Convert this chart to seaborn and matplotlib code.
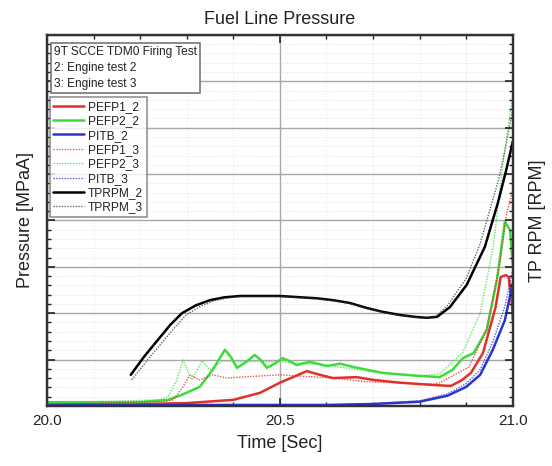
import numpy as np
import pandas as pd
import matplotlib
matplotlib.use("Agg")
import matplotlib.pyplot as plt
from matplotlib.ticker import MultipleLocator, NullFormatter
from matplotlib.lines import Line2D
import seaborn as sns

# valores (eje y sin escala: 8 divisiones)
t_pefp1_2 = [20.0, 20.2, 20.3, 20.4, 20.457, 20.5, 20.528, 20.558, 20.586, 20.614, 20.665, 20.7, 20.758,
             20.83, 20.867, 20.89, 20.91, 20.936, 20.963, 20.974, 20.985, 20.991, 20.998, 21.0]
v_pefp1_2 = [0.04, 0.04, 0.06, 0.13, 0.28, 0.50, 0.62, 0.75, 0.67, 0.60, 0.62, 0.56, 0.50,
             0.45, 0.43, 0.55, 0.71, 1.14, 2.13, 2.78, 2.82, 2.78, 2.2, 1.85]

t_pefp2_2 = [20.0, 20.2, 20.26, 20.29, 20.328, 20.356, 20.382, 20.395, 20.408, 20.428, 20.446, 20.46, 20.472,
             20.49, 20.506, 20.52, 20.536, 20.564, 20.601, 20.629, 20.657, 20.721, 20.794, 20.843,
             20.871, 20.893, 20.916, 20.944, 20.966, 20.983, 20.994, 21.0]
v_pefp2_2 = [0.08, 0.08, 0.13, 0.24, 0.41, 0.78, 1.21, 1.05, 0.82, 0.95, 1.10, 0.98, 0.82,
             0.92, 1.03, 0.97, 0.88, 0.95, 0.86, 0.91, 0.84, 0.71, 0.65, 0.62,
             0.78, 1.03, 1.14, 1.64, 2.72, 3.97, 3.79, 3.04]

t_pitb_2 = [20.0, 20.6, 20.7, 20.8, 20.86, 20.9, 20.93, 20.957, 20.983, 21.0]
v_pitb_2 = [0.02, 0.02, 0.04, 0.09, 0.22, 0.41, 0.67, 1.21, 1.85, 2.65]

t_pefp1_3 = [20.0, 20.25, 20.271, 20.292, 20.307, 20.328, 20.356, 20.386, 20.414, 20.5, 20.614, 20.687,
             20.83, 20.843, 20.906, 20.944, 20.972, 20.987, 21.0]
v_pefp1_3 = [0.04, 0.09, 0.13, 0.41, 0.67, 0.56, 0.67, 0.60, 0.62, 0.67, 0.60, 0.52,
             0.47, 0.50, 0.84, 1.64, 3.08, 4.16, 4.66]

t_pefp2_3 = [20.0, 20.24, 20.26, 20.279, 20.292, 20.311, 20.333, 20.350, 20.378, 20.41, 20.5, 20.6, 20.7,
             20.8, 20.843, 20.893, 20.93, 20.958, 20.979, 20.994, 21.0]
v_pefp2_3 = [0.06, 0.13, 0.20, 0.56, 0.99, 0.56, 0.97, 0.78, 0.97, 0.95, 0.95, 0.88, 0.73,
             0.65, 0.69, 1.16, 2.0, 3.43, 5.24, 6.31, 6.66]

t_pitb_3 = [20.0, 20.6, 20.7, 20.8, 20.86, 20.9, 20.93, 20.957, 20.983, 21.0]
v_pitb_3 = [0.02, 0.02, 0.05, 0.11, 0.26, 0.48, 0.78, 1.38, 2.15, 2.95]

t_tprpm_2 = [20.18, 20.21, 20.242, 20.265, 20.29, 20.32, 20.35, 20.38, 20.414, 20.5, 20.58, 20.614, 20.65,
             20.687, 20.72, 20.758, 20.79, 20.815, 20.837, 20.865, 20.901, 20.94, 20.968, 20.985, 21.0]
v_tprpm_2 = [0.67, 1.08, 1.47, 1.75, 2.00, 2.17, 2.28, 2.34, 2.37, 2.37, 2.32, 2.28, 2.22,
             2.11, 2.03, 1.96, 1.92, 1.90, 1.92, 2.13, 2.61, 3.43, 4.38, 5.05, 5.7]

t_tprpm_3 = [20.182, 20.215, 20.25, 20.275, 20.30, 20.33, 20.36, 20.39, 20.42, 20.5, 20.58, 20.614, 20.65,
             20.687, 20.72, 20.758, 20.79, 20.815, 20.835, 20.86, 20.9, 20.93, 20.97, 20.985, 21.0]
v_tprpm_3 = [0.56, 0.98, 1.40, 1.70, 1.97, 2.15, 2.27, 2.33, 2.36, 2.36, 2.31, 2.27, 2.21,
             2.10, 2.02, 1.95, 1.91, 1.89, 1.93, 2.17, 2.75, 3.50, 4.9, 5.6, 6.4]

red, green, blue = "#e0302a", "#3cdc3c", "#2a35d0"

pressure = [
    ("PEFP1_2", t_pefp1_2, v_pefp1_2, red, "-"),
    ("PEFP2_2", t_pefp2_2, v_pefp2_2, green, "-"),
    ("PITB_2", t_pitb_2, v_pitb_2, blue, "-"),
    ("PEFP1_3", t_pefp1_3, v_pefp1_3, red, ":"),
    ("PEFP2_3", t_pefp2_3, v_pefp2_3, green, ":"),
    ("PITB_3", t_pitb_3, v_pitb_3, blue, ":"),
]
rpm = [
    ("TPRPM_2", t_tprpm_2, v_tprpm_2, "black", "-"),
    ("TPRPM_3", t_tprpm_3, v_tprpm_3, "#444444", ":"),
]

sns.set_theme(style="white")
plt.rcParams['font.family'] = ['Liberation Sans', 'DejaVu Sans']

fig = plt.figure(figsize=(5.52, 4.66), dpi=100)
ax = fig.add_axes([0.085, 0.129, 0.844, 0.796])
ax2 = ax.twinx()

handles = []
def draw(axis, name, t, v, color, ls):
    df = pd.DataFrame({"t": t, "v": v})
    if ls == "-":
        kw = dict(linewidth=1.8, linestyle="-", alpha=1.0)
    else:
        kw = dict(linewidth=1.0, linestyle=(0, (1, 1)), alpha=0.8)
    sns.lineplot(data=df, x="t", y="v", ax=axis, color=color, legend=False, **kw)
    handles.append(Line2D([], [], color=color, label=name, **kw))

for s in pressure:
    draw(ax, *s)
for s in rpm:
    draw(ax2, *s)

for a in (ax, ax2):
    a.set_xlim(20.0, 21.0)
    a.set_ylim(0, 8)
    a.yaxis.set_major_locator(MultipleLocator(1))
    a.yaxis.set_minor_locator(MultipleLocator(0.2))
    a.yaxis.set_major_formatter(NullFormatter())
    a.set_ylabel("")

ax.xaxis.set_major_locator(MultipleLocator(0.5))
ax.xaxis.set_minor_locator(MultipleLocator(0.1))
ax.xaxis.set_major_formatter(matplotlib.ticker.FormatStrFormatter("%.1f"))

ax.tick_params(which="both", direction="in", top=True, bottom=True, left=True, right=False,
               colors="#222222", labelsize=11, labelcolor="#222222")
ax.tick_params(which="major", length=6, width=1.2)
ax.tick_params(which="minor", length=3, width=1.0)
ax.tick_params(axis="x", pad=6)
ax2.tick_params(which="both", direction="in", right=True, left=False, colors="#222222")
ax2.tick_params(which="major", length=6, width=1.2)
ax2.tick_params(which="minor", length=3, width=1.0)

ax.grid(which="major", color="#a8a8a8", linewidth=1.0, linestyle="-")
ax.grid(which="minor", color="#e4e4e4", linewidth=0.7, linestyle=":")
ax2.grid(False)

for a in (ax, ax2):
    for sp in a.spines.values():
        sp.set_color("#333333")
        sp.set_linewidth(1.6)

ax.set_title("Fuel Line Pressure", fontsize=13, pad=8, color="#222222")
ax.set_xlabel("Time [Sec]", fontsize=13, labelpad=5, color="#222222")
ax.set_ylabel("Pressure [MPaA]", fontsize=13, labelpad=6, color="#222222")
ax2.set_ylabel("TP RPM [RPM]", fontsize=13, labelpad=8, color="#222222")

# caja de texto superior
ax2.text(0.015, 0.97, "9T SCCE TDM0 Firing Test\n2: Engine test 2\n3: Engine test 3",
         transform=ax2.transAxes, ha="left", va="top", fontsize=8.6, linespacing=1.45,
         color="#222222",
         bbox=dict(boxstyle="square,pad=0.25", facecolor="white", edgecolor="#777777", linewidth=1.2))

leg = ax2.legend(handles=handles, loc="upper left", bbox_to_anchor=(0.006, 0.832),
                 fontsize=8.6, frameon=True, fancybox=False, handlelength=2.6,
                 handletextpad=0.3, borderpad=0.3, labelspacing=0.2, borderaxespad=0)
leg.get_frame().set_edgecolor("#777777")
leg.get_frame().set_linewidth(1.2)
for txt in leg.get_texts():
    txt.set_color("#222222")

fig.savefig("out.png", dpi=100)
